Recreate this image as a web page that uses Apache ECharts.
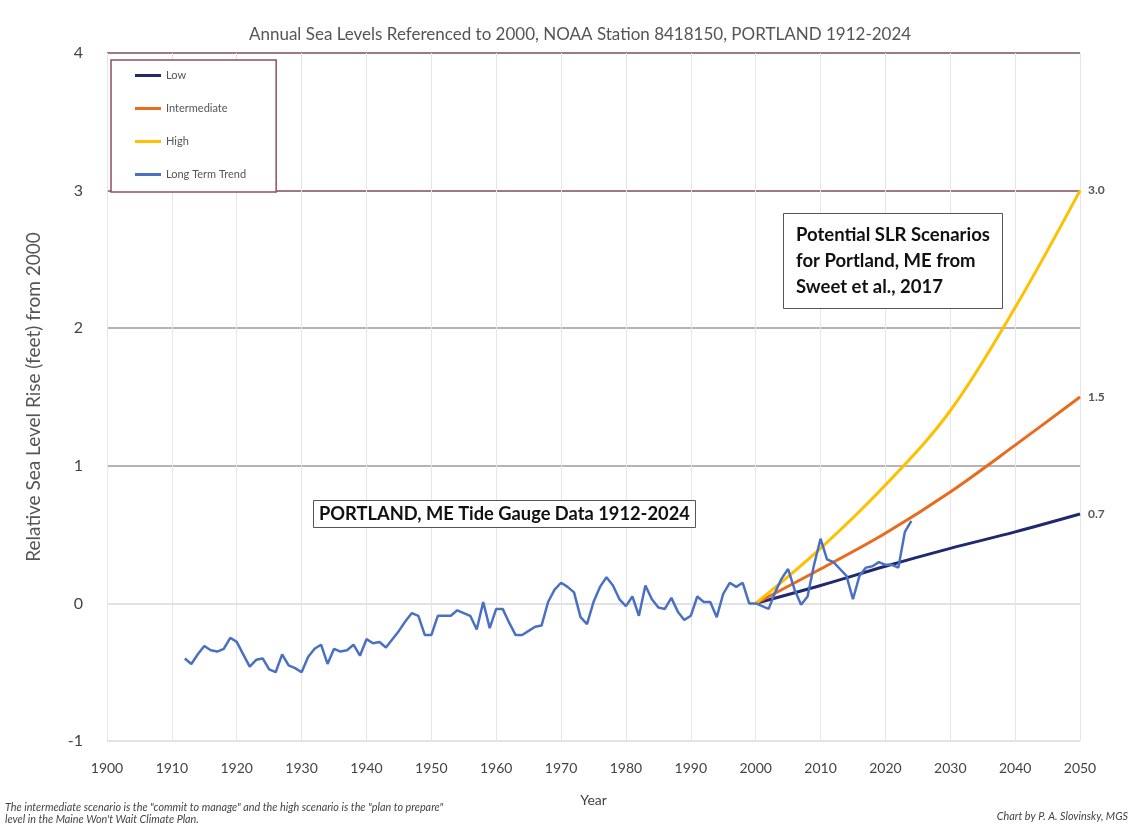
<!DOCTYPE html>
<html>
<head>
<meta charset="utf-8">
<script src="https://cdn.jsdelivr.net/npm/echarts@6/dist/echarts.min.js"></script>
<style>
  html, body { margin: 0; padding: 0; background: #fff; }
  #chart { width: 1136px; height: 834px; }
</style>
</head>
<body>
<div id="chart"></div>
<script>
// annual tide gauge data, Portland ME, feet relative to 2000
const gaugeYears = []
for (let y = 1912; y <= 2024; y++) gaugeYears.push(y)
const gaugeValues = [
  -0.40, -0.44, -0.37, -0.31, -0.34, -0.35, -0.33, -0.25, -0.28, -0.37, // 1912-1921
  -0.46, -0.41, -0.40, -0.48, -0.50, -0.37, -0.45, -0.47, -0.50, -0.39, // 1922-1931
  -0.33, -0.30, -0.44, -0.33, -0.35, -0.34, -0.30, -0.38, -0.26, -0.29, // 1932-1941
  -0.28, -0.32, -0.26, -0.20, -0.13, -0.07, -0.09, -0.23, -0.23, -0.09, // 1942-1951
  -0.09, -0.09, -0.05, -0.07, -0.09, -0.19, 0.01, -0.18, -0.04, -0.04,  // 1952-1961
  -0.14, -0.23, -0.23, -0.20, -0.17, -0.16, 0.01, 0.10, 0.15, 0.12,     // 1962-1971
  0.08, -0.10, -0.15, 0.01, 0.12, 0.19, 0.13, 0.03, -0.02, 0.05,        // 1972-1981
  -0.09, 0.13, 0.03, -0.03, -0.04, 0.04, -0.06, -0.12, -0.09, 0.05,     // 1982-1991
  0.01, 0.01, -0.10, 0.07, 0.15, 0.12, 0.15, 0.00, 0.00, -0.02,         // 1992-2001
  -0.04, 0.08, 0.18, 0.25, 0.10, -0.01, 0.05, 0.28, 0.47, 0.32,         // 2002-2011
  0.30, 0.25, 0.20, 0.03, 0.20, 0.26, 0.27, 0.30, 0.28, 0.28,           // 2012-2021
  0.26, 0.52, 0.60                                                      // 2022-2024
]

// Sweet et al. 2017 scenarios
const scenarioYears = [2000, 2010, 2020, 2030, 2040, 2050]
const lowValues = [0, 0.13, 0.27, 0.40, 0.52, 0.65]
const intermediateValues = [0, 0.25, 0.51, 0.81, 1.15, 1.5]
const highValues = [0, 0.40, 0.86, 1.40, 2.15, 3.0]
const endLabels = { Low: '0.7', Intermediate: '1.5', High: '3.0' }

const yTickColors = ['#e2e2e2', '#e2e2e2', '#b4b4b4', '#b4b4b4', '#9c7c80', '#9c7c80']

const pairs = (xs, ys) => xs.map((x, i) => [x, ys[i]])

const chart = echarts.init(document.getElementById('chart'))
const font = 'Lato, "Open Sans", sans-serif'

const scenarioSeries = (name, values, color) => ({
  name: name,
  type: 'line',
  data: pairs(scenarioYears, values),
  smooth: 0.35,
  showSymbol: false,
  lineStyle: { color: color, width: 3 },
  itemStyle: { color: color },
  endLabel: {
    show: true,
    formatter: endLabels[name],
    color: '#555',
    fontSize: 12,
    fontWeight: 'bold',
    fontFamily: font,
    distance: 8
  }
})

chart.setOption({
  backgroundColor: '#fff',
  animation: false,
  textStyle: { fontFamily: font },
  title: [
    {
      text: 'Annual Sea Levels Referenced to 2000, NOAA Station 8418150, PORTLAND 1912-2024',
      left: 244,
      top: 21,
      textStyle: { fontSize: 17, fontWeight: 'normal', color: '#555', fontFamily: font }
    },
    {
      text: 'PORTLAND, ME Tide Gauge Data 1912-2024',
      left: 313,
      top: 500,
      padding: [5, 6, 5, 6],
      borderColor: '#555',
      borderWidth: 1,
      backgroundColor: '#fff',
      textStyle: { fontSize: 18.3, fontWeight: 'bold', color: '#111', fontFamily: font }
    },
    {
      text: 'Potential SLR Scenarios\nfor Portland, ME from\nSweet et al., 2017',
      left: 783,
      top: 213,
      padding: [9, 13, 9, 13],
      borderColor: '#555',
      borderWidth: 1,
      backgroundColor: '#fff',
      textAlign: 'left',
      textStyle: { fontSize: 18.5, fontWeight: 'bold', color: '#111', lineHeight: 26, fontFamily: font, align: 'center' }
    },
    {
      text: 'The intermediate scenario is the "commit to manage" and the high scenario is the "plan to prepare"\nlevel in the Maine Won\'t Wait Climate Plan.',
      left: 5,
      top: 802,
      padding: 0,
      textStyle: { fontSize: 10.8, fontStyle: 'italic', fontWeight: 'normal', color: '#444', lineHeight: 12, fontFamily: font }
    },
    {
      text: 'Chart by P. A. Slovinsky, MGS',
      right: 8,
      top: 811,
      padding: 0,
      textStyle: { fontSize: 10.8, fontStyle: 'italic', fontWeight: 'normal', color: '#444', fontFamily: font }
    }
  ],
  legend: {
    orient: 'vertical',
    left: 111,
    top: 60,
    padding: [10, 30, 12, 24],
    itemGap: 22,
    itemWidth: 26,
    itemHeight: 3,
    icon: 'rect',
    borderColor: '#8b5060',
    borderWidth: 1.5,
    backgroundColor: '#fff',
    textStyle: { fontSize: 11, color: '#555', fontFamily: font },
    data: ['Low', 'Intermediate', 'High', 'Long Term Trend']
  },
  grid: { left: 107, right: 56, top: 53, bottom: 93 },
  xAxis: {
    type: 'value',
    min: 1900,
    max: 2050,
    interval: 10,
    name: 'Year',
    nameLocation: 'middle',
    nameGap: 52,
    nameTextStyle: { fontSize: 14, color: '#444' },
    axisLine: { show: false },
    axisTick: { show: false },
    axisLabel: { fontSize: 14, color: '#444', margin: 20, formatter: (v) => String(v) },
    splitLine: { show: true, lineStyle: { color: '#e6e6e6', width: 1 } }
  },
  yAxis: {
    type: 'value',
    min: -1,
    max: 4,
    interval: 1,
    name: 'Relative Sea Level Rise (feet) from 2000',
    nameLocation: 'middle',
    nameGap: 64,
    nameRotate: 90,
    nameTextStyle: { fontSize: 19, color: '#555' },
    axisLine: { show: false },
    axisTick: { show: false },
    axisLabel: { fontSize: 16, color: '#444', margin: 24 },
    splitLine: { show: true, lineStyle: { color: yTickColors, width: 2 } }
  },
  series: [
    scenarioSeries('Low', lowValues, '#1f2a6e'),
    scenarioSeries('Intermediate', intermediateValues, '#ea6a1e'),
    scenarioSeries('High', highValues, '#ffc000'),
    {
      name: 'Long Term Trend',
      type: 'line',
      data: pairs(gaugeYears, gaugeValues),
      showSymbol: false,
      lineStyle: { color: '#4a70c2', width: 2.5 },
      itemStyle: { color: '#4a70c2' }
    }
  ]
})
</script>
</body>
</html>
